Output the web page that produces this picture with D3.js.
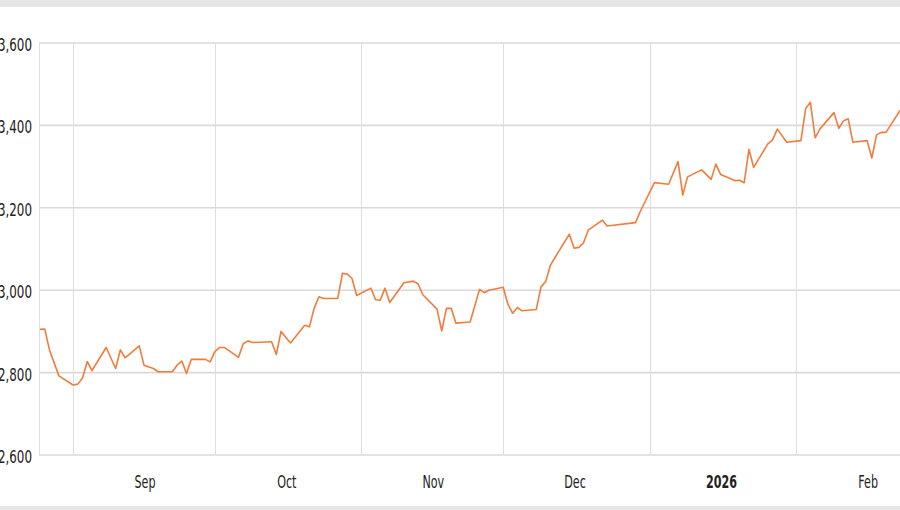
<!DOCTYPE html>
<html>
<head>
<meta charset="utf-8">
<script src="https://cdn.jsdelivr.net/npm/d3@7"></script>
<style>
  html, body { margin: 0; padding: 0; background: #fff; overflow: hidden; }
  svg { display: block; }
</style>
</head>
<body>
<div id="chart"></div>
<script>
var width = 940;
var height = 510;
var margin = ({top: 43, right: 2, bottom: 55, left: 40});

// daily closes
var dates = ["2025-08-25","2025-08-26","2025-08-27","2025-08-29","2025-09-01","2025-09-02","2025-09-03","2025-09-04","2025-09-05",
  "2025-09-08","2025-09-10","2025-09-11","2025-09-12","2025-09-15","2025-09-16","2025-09-18","2025-09-19","2025-09-22","2025-09-23",
  "2025-09-24","2025-09-25","2025-09-26","2025-09-29","2025-09-30","2025-10-01","2025-10-02","2025-10-03","2025-10-06","2025-10-07",
  "2025-10-08","2025-10-09","2025-10-13","2025-10-14","2025-10-15","2025-10-17","2025-10-20","2025-10-21","2025-10-22","2025-10-23",
  "2025-10-24","2025-10-27","2025-10-28","2025-10-29","2025-10-30","2025-10-31","2025-11-03","2025-11-04","2025-11-05","2025-11-06",
  "2025-11-07","2025-11-10","2025-11-12","2025-11-13","2025-11-14","2025-11-17","2025-11-18","2025-11-19","2025-11-20","2025-11-21",
  "2025-11-24","2025-11-26","2025-11-27","2025-11-28","2025-12-01","2025-12-02","2025-12-03","2025-12-04","2025-12-05","2025-12-08",
  "2025-12-09","2025-12-10","2025-12-11","2025-12-12","2025-12-15","2025-12-16","2025-12-17","2025-12-18","2025-12-19","2025-12-22",
  "2025-12-23","2025-12-29","2025-12-30","2026-01-02","2026-01-05","2026-01-07","2026-01-08","2026-01-09","2026-01-12","2026-01-14",
  "2026-01-15","2026-01-16","2026-01-19","2026-01-20","2026-01-21","2026-01-22","2026-01-23","2026-01-26","2026-01-27","2026-01-28",
  "2026-01-30","2026-02-02","2026-02-03","2026-02-04","2026-02-05","2026-02-06","2026-02-09","2026-02-10","2026-02-11","2026-02-12",
  "2026-02-13","2026-02-16","2026-02-17","2026-02-18","2026-02-19","2026-02-20","2026-02-23"];

var closes = [2905,2906,2855,2792,2770,2772,2787,2827,2805,
  2861,2810,2855,2836,2865,2818,2810,2802,2802,2818,
  2828,2798,2832,2832,2826,2851,2861,2861,2837,2870,
  2877,2873,2875,2844,2900,2872,2915,2911,2956,2984,
  2980,2980,3041,3039,3029,2987,3005,2977,2976,3005,
  2970,3018,3022,3015,2989,2954,2901,2956,2956,2920,
  2923,3002,2994,3000,3007,2966,2944,2958,2950,2953,
  3008,3021,3061,3080,3136,3102,3104,3115,3146,3170,
  3156,3164,3191,3261,3257,3312,3231,3275,3292,3269,
  3306,3281,3266,3267,3261,3342,3298,3355,3365,3391,
  3359,3363,3441,3456,3370,3391,3431,3393,3411,3416,
  3359,3363,3321,3377,3383,3383,3437];

var yTicks = [2600, 2800, 3000, 3200, 3400, 3600];
var xStart = "2025-08-25";
var xEnd = "2026-03-03";

var parse = d3.utcParse("%Y-%m-%d");
var data = dates.map((d, i) => [parse(d), closes[i]]);

var x = d3.scaleUtc()
    .domain([parse(xStart), parse(xEnd)])
    .range([margin.left, width - margin.right]);

var y = d3.scaleLinear()
    .domain([2600, 3600])
    .range([height - margin.bottom, margin.top]);

var line = d3.line()
    .x(d => x(d[0]))
    .y(d => y(d[1]));

const svg = d3.select("#chart").append("svg")
    .attr("width", width)
    .attr("height", height)
    .style("font-family", "'DejaVu Sans', Verdana, sans-serif");

// grey strips at the top and bottom of the frame
svg.append("rect").attr("x", 0).attr("y", 0).attr("width", width).attr("height", 7).attr("fill", "#e6e6e6");
svg.append("rect").attr("x", 0).attr("y", 506).attr("width", width).attr("height", 4).attr("fill", "#e6e6e6");

// horizontal grid
svg.append("g")
  .selectAll("line")
  .data(yTicks)
  .join("line")
    .attr("x1", margin.left - 1)
    .attr("x2", width)
    .attr("y1", d => y(d))
    .attr("y2", d => y(d))
    .attr("stroke", "#d9d9d9")
    .attr("stroke-width", 1.6);

// month boundaries
var months = d3.utcMonth.range(d3.utcMonth.ceil(x.domain()[0]), x.domain()[1]);
svg.append("g")
  .selectAll("line")
  .data(months)
  .join("line")
    .attr("x1", d => Math.round(x(d)) + 0.5)
    .attr("x2", d => Math.round(x(d)) + 0.5)
    .attr("y1", y(3600))
    .attr("y2", y(2600))
    .attr("stroke", "#dedede")
    .attr("stroke-width", 1);

// left edge of the plot
svg.append("line")
    .attr("x1", margin.left - 0.5)
    .attr("x2", margin.left - 0.5)
    .attr("y1", y(3600))
    .attr("y2", y(2600))
    .attr("stroke", "#dedede");

// y labels, narrow like the reference
svg.append("g")
  .selectAll("text")
  .data(yTicks)
  .join("text")
    .attr("transform", d => `translate(32,${y(d) + 8}) scale(0.66,1)`)
    .attr("text-anchor", "end")
    .attr("font-size", 18)
    .attr("fill", "#222")
    .text(d => d3.format(",")(d));

// month labels sit on the 16th of each month
var labelFmt = d => d.getUTCMonth() === 0 ? d3.utcFormat("%Y")(d) : d3.utcFormat("%b")(d);
var mids = months.map(m => d3.utcDay.offset(m, 15)).filter(d => d <= x.domain()[1]);
svg.append("g")
  .selectAll("text")
  .data(mids)
  .join("text")
    .attr("transform", d => `translate(${x(d) + 1},488) scale(0.62,1)`)
    .attr("text-anchor", "middle")
    .attr("font-size", 18)
    .attr("font-weight", d => d.getUTCMonth() === 0 ? "bold" : "normal")
    .attr("fill", "#222")
    .text(d => labelFmt(d));

svg.append("path")
    .datum(data)
    .attr("fill", "none")
    .attr("stroke", "#f37b3b")
    .attr("stroke-width", 1.6)
    .attr("stroke-linejoin", "round")
    .attr("d", line);
</script>
</body>
</html>
